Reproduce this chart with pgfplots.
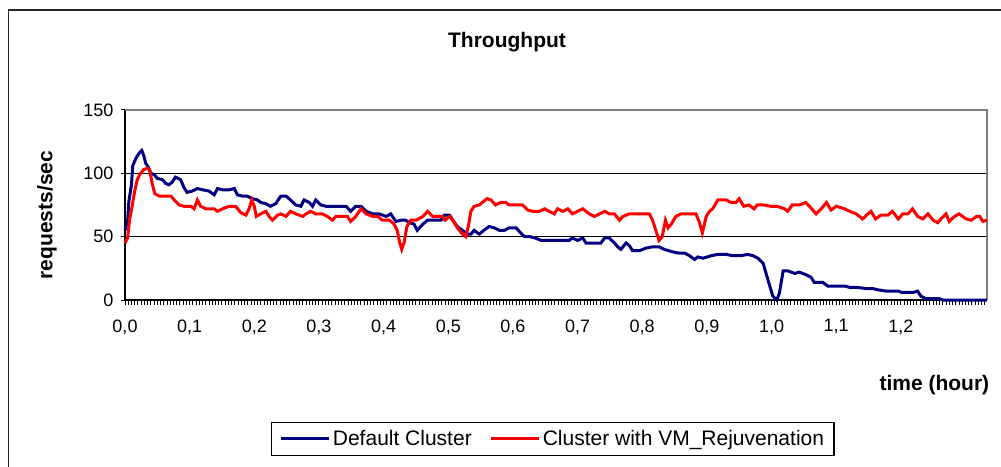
\documentclass[border=0pt]{standalone}
\usepackage{fontspec}
\setmainfont{Liberation Sans}
\usepackage{pgfplots}
\usepackage{pgfplotstable}
\pgfplotsset{compat=1.18}
\definecolor{navyblue}{RGB}{0,0,128}
\definecolor{xlred}{RGB}{255,0,0}

\pgfplotstableread{
t v
0.000 55
0.004 62
0.006 78
0.010 91
0.012 106
0.017 112
0.022 116
0.026 118
0.029 114
0.032 108
0.036 105
0.040 100
0.045 99
0.050 96
0.058 95
0.063 92
0.068 91
0.073 93
0.078 97
0.086 95
0.091 89
0.096 85
0.104 86
0.112 88
0.120 87
0.130 86
0.138 83
0.143 88
0.151 87
0.161 87
0.169 88
0.174 83
0.182 82
0.189 82
0.197 80
0.205 79
0.210 77
0.218 76
0.225 74
0.233 76
0.241 82
0.249 82
0.256 79
0.264 75
0.272 74
0.277 79
0.285 77
0.290 74
0.295 79
0.303 75
0.311 74
0.331 74
0.342 74
0.349 70
0.357 74
0.365 74
0.373 70
0.383 68
0.393 68
0.404 66
0.411 68
0.419 62
0.427 63
0.434 63
0.440 61
0.447 60
0.452 55
0.461 60
0.468 63
0.478 63
0.489 63
0.494 67
0.502 67
0.507 63
0.514 58
0.522 55
0.530 52
0.535 52
0.540 55
0.548 52
0.555 55
0.563 58
0.571 57
0.579 55
0.587 55
0.594 57
0.605 57
0.610 54
0.618 50
0.626 50
0.634 49
0.644 47
0.662 47
0.687 47
0.692 49
0.700 47
0.708 49
0.713 45
0.736 45
0.742 49
0.749 49
0.757 45
0.762 42
0.767 40
0.775 45
0.780 43
0.785 39
0.796 39
0.806 41
0.816 42
0.826 42
0.834 40
0.847 38
0.857 37
0.866 37
0.873 35
0.881 32
0.886 34
0.894 33
0.907 35
0.917 36
0.930 36
0.940 35
0.953 35
0.963 36
0.971 35
0.979 33
0.987 29
0.995 15
1.002 3
1.008 0
1.012 5
1.018 23
1.025 23
1.036 21
1.043 22
1.053 20
1.061 18
1.066 14
1.079 14
1.087 11
1.113 11
1.121 10
1.131 10
1.147 9
1.157 9
1.165 8
1.178 7
1.196 7
1.201 6
1.219 6
1.226 7
1.231 3
1.239 1
1.260 1
1.265 0
1.333 0
}\defaultcluster

\pgfplotstableread{
t v
0.000 45
0.004 49
0.007 63
0.011 74
0.015 86
0.019 95
0.024 100
0.029 103
0.035 104
0.038 103
0.042 92
0.046 84
0.053 82
0.071 82
0.076 79
0.084 75
0.091 74
0.102 74
0.107 72
0.112 79
0.117 74
0.125 72
0.138 72
0.143 70
0.151 72
0.161 74
0.171 74
0.179 69
0.187 67
0.192 72
0.196 79
0.200 74
0.203 66
0.210 68
0.218 70
0.223 66
0.228 63
0.236 67
0.241 68
0.249 66
0.256 70
0.264 68
0.275 66
0.280 68
0.287 70
0.295 68
0.305 68
0.313 66
0.321 63
0.326 66
0.344 66
0.349 62
0.357 66
0.365 72
0.373 68
0.383 66
0.391 66
0.398 63
0.409 63
0.416 60
0.421 55
0.425 45
0.428 40
0.432 46
0.436 58
0.442 63
0.450 63
0.461 66
0.468 70
0.476 66
0.491 66
0.495 63
0.502 66
0.507 63
0.514 57
0.522 52
0.527 50
0.531 58
0.535 70
0.540 74
0.548 75
0.555 78
0.560 80
0.566 79
0.573 75
0.581 77
0.589 77
0.594 75
0.615 75
0.623 71
0.631 70
0.641 70
0.649 72
0.656 70
0.664 68
0.669 72
0.677 70
0.685 72
0.692 68
0.700 70
0.708 72
0.718 68
0.726 66
0.734 68
0.742 70
0.749 68
0.757 68
0.765 63
0.770 66
0.780 68
0.811 68
0.816 63
0.821 55
0.826 47
0.831 50
0.836 63
0.840 57
0.845 60
0.852 66
0.860 68
0.883 68
0.888 62
0.893 53
0.899 66
0.904 70
0.909 72
0.917 79
0.930 79
0.937 77
0.945 77
0.950 80
0.957 74
0.965 75
0.973 72
0.978 75
0.988 75
0.999 74
1.009 74
1.020 72
1.025 70
1.032 75
1.043 75
1.053 77
1.062 72
1.069 68
1.077 72
1.085 77
1.092 71
1.100 74
1.113 72
1.121 70
1.131 68
1.141 64
1.149 68
1.154 70
1.161 64
1.169 67
1.180 67
1.187 70
1.196 64
1.203 68
1.211 68
1.218 72
1.226 66
1.234 64
1.242 68
1.250 63
1.257 61
1.262 64
1.270 68
1.275 62
1.283 66
1.290 68
1.301 64
1.309 63
1.317 66
1.322 66
1.327 62
1.333 63
}\rejuvcluster

\begin{document}
\begin{tikzpicture}
\useasboundingbox (0pt,0pt) rectangle (1001pt,466pt);
\fill[white] (0pt,0pt) rectangle (1001pt,466pt);
\draw[line width=1.5pt, black!85] (8.5pt,-20pt) -- (8.5pt,456pt) -- (1030pt,456pt);
\node[font=\fontsize{21}{24}\selectfont\bfseries] at (507pt,424pt) {Throughput};
\node[font=\fontsize{21}{24}\selectfont\bfseries, rotate=90] at (47pt,251pt) {requests/sec};
\node[font=\fontsize{21}{24}\selectfont\bfseries, anchor=base west] at (876pt,76pt) {time (hour)};
\begin{axis}[
  at={(125pt,166pt)}, anchor=south west,
  scale only axis, width=862pt, height=190pt,
  xmin=0, xmax=1.3333, ymin=0, ymax=150,
  axis lines*=left,
  axis line style={line width=1.5pt, black},
  clip=false,
  ytick={0,50,100,150},
  xtick={0,0.1,0.2,0.3,0.4,0.5,0.6,0.7,0.8,0.9,1.0,1.1,1.2},
  minor xtick={0,0.005,...,1.332},
  tick align=outside,
  major tick length=8pt, minor tick length=5pt,
  every major x tick/.append style={draw=none},
  every major y tick/.append style={xshift=4pt},
  tick style={black, line width=1pt},
  ymajorgrids,
  major grid style={black, line width=1.5pt},
  /pgf/number format/assume math mode=true,
  xticklabel={\pgfmathprintnumber[fixed,fixed zerofill,precision=1,use comma]{\tick}},
  ticklabel style={font=\fontsize{18}{20}\selectfont},
  xticklabel style={yshift=-8pt},
  legend style={at={(0.4965,-0.642)}, anchor=north, draw=black, line width=1.2pt,
    font=\fontsize{21}{24}\selectfont, legend columns=2,
    inner xsep=8pt, inner ysep=6pt,
    /tikz/every even column/.append style={column sep=16pt}},
  legend cell align=left,
  legend image code/.code={\draw[#1, line width=3pt] (0pt,0pt) -- (48pt,0pt);},
]
\draw[gray, line width=1.5pt] (rel axis cs:0,1) -- (rel axis cs:1,1) -- (rel axis cs:1,0);
\addplot[navyblue, line width=3pt] table[x=t, y=v] {\defaultcluster};
\addlegendentry{Default Cluster}
\addplot[xlred, line width=3pt] table[x=t, y=v] {\rejuvcluster};
\addlegendentry{Cluster with VM\_Rejuvenation}
\end{axis}
\end{tikzpicture}
\end{document}
